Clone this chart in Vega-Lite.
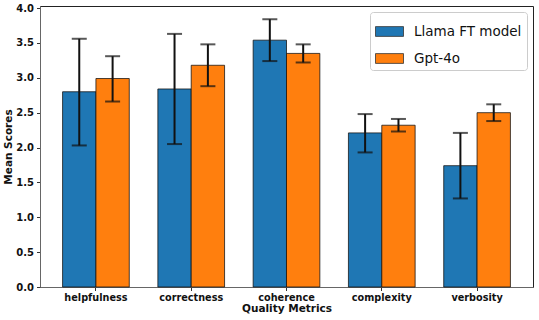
{
  "$schema": "https://vega.github.io/schema/vega-lite/v6.json",
  "width": 493,
  "height": 281,
  "autosize": {"type": "none"},
  "padding": {"left": 40, "top": 6, "right": 6, "bottom": 33},
  "config": {
    "font": "DejaVu Sans",
    "view": {"stroke": "#222", "strokeWidth": 1},
    "axis": {"grid": false, "domainColor": "#666", "tickColor": "#333", "labelColor": "#111", "titleColor": "#111"}
  },
  "data": {
    "values": [
      {"metric": "helpfulness", "model": "Llama FT model", "mean": 2.80, "lo": 2.03, "hi": 3.56},
      {"metric": "helpfulness", "model": "Gpt-4o", "mean": 2.99, "lo": 2.66, "hi": 3.31},
      {"metric": "correctness", "model": "Llama FT model", "mean": 2.84, "lo": 2.05, "hi": 3.63},
      {"metric": "correctness", "model": "Gpt-4o", "mean": 3.18, "lo": 2.88, "hi": 3.48},
      {"metric": "coherence", "model": "Llama FT model", "mean": 3.54, "lo": 3.24, "hi": 3.84},
      {"metric": "coherence", "model": "Gpt-4o", "mean": 3.35, "lo": 3.22, "hi": 3.48},
      {"metric": "complexity", "model": "Llama FT model", "mean": 2.21, "lo": 1.93, "hi": 2.48},
      {"metric": "complexity", "model": "Gpt-4o", "mean": 2.32, "lo": 2.23, "hi": 2.41},
      {"metric": "verbosity", "model": "Llama FT model", "mean": 1.74, "lo": 1.27, "hi": 2.21},
      {"metric": "verbosity", "model": "Gpt-4o", "mean": 2.50, "lo": 2.38, "hi": 2.62}
    ]
  },
  "encoding": {
    "x": {
      "field": "metric", "type": "nominal", "sort": null,
      "scale": {"paddingInner": 0.3, "paddingOuter": 0.237},
      "axis": {"title": "Quality Metrics", "labelAngle": 0, "labelFontWeight": "bold", "labelFontSize": 9.7, "titleFontWeight": "bold", "titleFontSize": 10.5, "tickSize": 3.5, "labelPadding": 1.5, "titlePadding": 2}
    },
    "xOffset": {"field": "model", "type": "nominal", "sort": ["Llama FT model", "Gpt-4o"], "scale": {"paddingInner": 0, "paddingOuter": 0}}
  },
  "layer": [
    {
      "mark": {"type": "bar", "stroke": "#111", "strokeWidth": 0.9, "strokeOpacity": 0.85},
      "encoding": {
        "y": {
          "field": "mean", "type": "quantitative",
          "scale": {"domain": [0, 4.03], "nice": false, "zero": true},
          "axis": {"title": "Mean Scores", "values": [0, 0.5, 1, 1.5, 2, 2.5, 3, 3.5, 4], "format": ".1f", "labelOverlap": false, "labelBound": false, "labelFontWeight": "bold", "labelFontSize": 10, "titleFontWeight": "bold", "titleFontSize": 10.5, "tickSize": 3.5, "labelPadding": 3, "titlePadding": 2}
        },
        "color": {
          "field": "model", "type": "nominal", "sort": ["Llama FT model", "Gpt-4o"],
          "scale": {"domain": ["Llama FT model", "Gpt-4o"], "range": ["#1f77b4", "#ff7f0e"]},
          "legend": {
            "title": null, "orient": "top-right", "offset": 6,
            "symbolType": "M-1,-0.35H1V0.35H-1Z", "symbolSize": 784,
            "symbolStrokeColor": "#333", "symbolStrokeWidth": 0.8, "symbolOpacity": 1,
            "labelFontSize": 13.5, "labelColor": "#111", "labelOffset": 10,
            "rowPadding": 6, "padding": 5, "strokeColor": "#ccc", "fillColor": "white", "cornerRadius": 3
          }
        }
      }
    },
    {
      "mark": {"type": "rule", "color": "#111", "strokeWidth": 2},
      "encoding": {
        "y": {"field": "lo", "type": "quantitative", "axis": {"title": "Mean Scores", "values": [0, 0.5, 1, 1.5, 2, 2.5, 3, 3.5, 4], "format": ".1f", "labelOverlap": false, "labelBound": false, "labelFontWeight": "bold", "labelFontSize": 10, "titleFontWeight": "bold", "titleFontSize": 10.5, "tickSize": 3.5, "labelPadding": 3, "titlePadding": 2}},
        "y2": {"field": "hi"}
      }
    },
    {
      "mark": {"type": "tick", "color": "#111", "thickness": 2, "size": 15, "orient": "horizontal"},
      "encoding": {"y": {"field": "lo", "type": "quantitative", "axis": {"title": "Mean Scores", "values": [0, 0.5, 1, 1.5, 2, 2.5, 3, 3.5, 4], "format": ".1f", "labelOverlap": false, "labelBound": false, "labelFontWeight": "bold", "labelFontSize": 10, "titleFontWeight": "bold", "titleFontSize": 10.5, "tickSize": 3.5, "labelPadding": 3, "titlePadding": 2}}}
    },
    {
      "mark": {"type": "tick", "color": "#111", "thickness": 2, "size": 15, "orient": "horizontal"},
      "encoding": {"y": {"field": "hi", "type": "quantitative", "axis": {"title": "Mean Scores", "values": [0, 0.5, 1, 1.5, 2, 2.5, 3, 3.5, 4], "format": ".1f", "labelOverlap": false, "labelBound": false, "labelFontWeight": "bold", "labelFontSize": 10, "titleFontWeight": "bold", "titleFontSize": 10.5, "tickSize": 3.5, "labelPadding": 3, "titlePadding": 2}}}
    }
  ]
}
